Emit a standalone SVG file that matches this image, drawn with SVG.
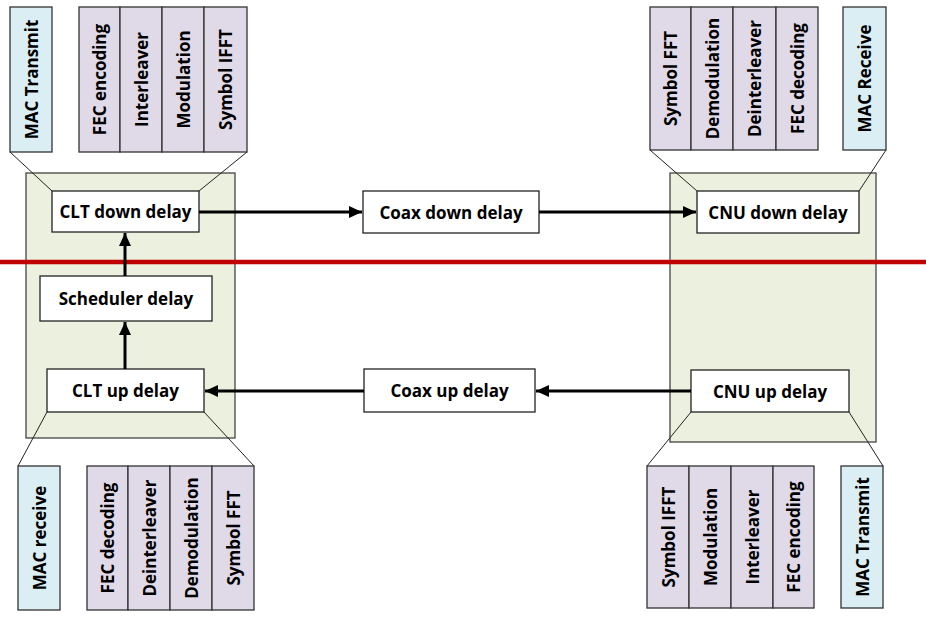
<svg xmlns="http://www.w3.org/2000/svg" width="926" height="625" viewBox="0 0 926 625">
<defs>
<marker id="ah" markerUnits="userSpaceOnUse" markerWidth="14" markerHeight="12" refX="13" refY="6" orient="auto">
<path d="M0,0 L13,6 L0,12 Z" fill="#000"/>
</marker>
<style>
.t{font-family:"Open Sans","Liberation Sans",sans-serif;font-weight:700;font-size:17px;fill:#000;text-anchor:middle;dominant-baseline:central}
.mac{fill:#DAEEF3;stroke:#333;stroke-width:1.3}
.pur{fill:#E0DAE8;stroke:#333;stroke-width:1.3}
.grn{fill:#EBF1DE;stroke:#444;stroke-width:1.3}
.box{fill:#fff;stroke:#222;stroke-width:1.3}
.thin{stroke:#222;stroke-width:1;fill:none}
.con{stroke:#000;stroke-width:3;fill:none;marker-end:url(#ah)}
</style>
</defs>
<rect width="926" height="625" fill="#fff"/>

<g id="clt">
<rect class="grn" x="26" y="173" width="209" height="265"/>
</g>
<g id="cnu">
<rect class="grn" x="670" y="173" width="206" height="269"/>
</g>

<g id="zoomlines">
<line class="thin" x1="10" y1="152" x2="52" y2="191"/>
<line class="thin" x1="247" y1="152" x2="199" y2="191"/>
<line class="thin" x1="47" y1="412" x2="18" y2="466"/>
<line class="thin" x1="204" y1="412" x2="254" y2="466"/>
<line class="thin" x1="650" y1="150" x2="697" y2="191"/>
<line class="thin" x1="886" y1="150" x2="859" y2="191"/>
<line class="thin" x1="691" y1="412" x2="647" y2="466"/>
<line class="thin" x1="849" y1="412" x2="883" y2="466"/>
</g>

<line id="boundary" x1="0" y1="262" x2="926" y2="262" stroke="#C00000" stroke-width="4.5"/>

<g id="mac-transmit-clt">
<rect class="mac" x="10" y="7" width="42" height="145"/>
<text class="t" transform="translate(31,79.5) rotate(-90)">MAC Transmit</text>
</g>
<g id="clt-tx-chain">
<rect class="pur" x="79" y="7" width="41" height="145"/>
<rect class="pur" x="120" y="7" width="42" height="145"/>
<rect class="pur" x="162" y="7" width="42" height="145"/>
<rect class="pur" x="204" y="7" width="43" height="145"/>
<text class="t" transform="translate(99.5,79.5) rotate(-90)">FEC encoding</text>
<text class="t" transform="translate(141,79.5) rotate(-90)">Interleaver</text>
<text class="t" transform="translate(183,79.5) rotate(-90)">Modulation</text>
<text class="t" transform="translate(225.5,79.5) rotate(-90)">Symbol IFFT</text>
</g>

<g id="cnu-rx-chain">
<rect class="pur" x="650" y="7" width="41" height="143"/>
<rect class="pur" x="691" y="7" width="42" height="143"/>
<rect class="pur" x="733" y="7" width="43" height="143"/>
<rect class="pur" x="776" y="7" width="42" height="143"/>
<text class="t" transform="translate(670.5,78.5) rotate(-90)">Symbol FFT</text>
<text class="t" transform="translate(712,78.5) rotate(-90)">Demodulation</text>
<text class="t" transform="translate(754.5,78.5) rotate(-90)">Deinterleaver</text>
<text class="t" transform="translate(797,78.5) rotate(-90)">FEC decoding</text>
</g>
<g id="mac-receive-cnu">
<rect class="mac" x="843" y="7" width="43" height="143"/>
<text class="t" transform="translate(864.5,78.5) rotate(-90)">MAC Receive</text>
</g>

<g id="mac-receive-clt">
<rect class="mac" x="18" y="466" width="42" height="144"/>
<text class="t" transform="translate(39,538) rotate(-90)">MAC receive</text>
</g>
<g id="clt-rx-chain">
<rect class="pur" x="87" y="466" width="41" height="144"/>
<rect class="pur" x="128" y="466" width="42" height="144"/>
<rect class="pur" x="170" y="466" width="42" height="144"/>
<rect class="pur" x="212" y="466" width="42" height="144"/>
<text class="t" transform="translate(107.5,538) rotate(-90)">FEC decoding</text>
<text class="t" transform="translate(149,538) rotate(-90)">Deinterleaver</text>
<text class="t" transform="translate(191,538) rotate(-90)">Demodulation</text>
<text class="t" transform="translate(233,538) rotate(-90)">Symbol FFT</text>
</g>

<g id="cnu-tx-chain">
<rect class="pur" x="647" y="466" width="42" height="142"/>
<rect class="pur" x="689" y="466" width="42" height="142"/>
<rect class="pur" x="731" y="466" width="42" height="142"/>
<rect class="pur" x="773" y="466" width="41" height="142"/>
<text class="t" transform="translate(668,537) rotate(-90)">Symbol IFFT</text>
<text class="t" transform="translate(710,537) rotate(-90)">Modulation</text>
<text class="t" transform="translate(752,537) rotate(-90)">Interleaver</text>
<text class="t" transform="translate(793.5,537) rotate(-90)">FEC encoding</text>
</g>
<g id="mac-transmit-cnu">
<rect class="mac" x="841" y="466" width="42" height="142"/>
<text class="t" transform="translate(862,537) rotate(-90)">MAC Transmit</text>
</g>

<g id="clt-down">
<rect class="box" x="52" y="191" width="147" height="41"/>
<text class="t" x="125.5" y="211.5">CLT down delay</text>
</g>
<g id="scheduler">
<rect class="box" x="40" y="276" width="172" height="45"/>
<text class="t" x="126" y="298.5">Scheduler delay</text>
</g>
<g id="clt-up">
<rect class="box" x="47" y="369" width="157" height="43"/>
<text class="t" x="125.5" y="390.5">CLT up delay</text>
</g>
<g id="coax-down">
<rect class="box" x="363" y="191" width="176" height="42"/>
<text class="t" x="451" y="212">Coax down delay</text>
</g>
<g id="coax-up">
<rect class="box" x="364" y="369" width="171" height="43"/>
<text class="t" x="449.5" y="390.5">Coax up delay</text>
</g>
<g id="cnu-down">
<rect class="box" x="697" y="191" width="162" height="42"/>
<text class="t" x="778" y="212">CNU down delay</text>
</g>
<g id="cnu-up">
<rect class="box" x="691" y="370" width="158" height="42"/>
<text class="t" x="770" y="391">CNU up delay</text>
</g>

<g id="connectors">
<line class="con" x1="199" y1="212" x2="362" y2="212"/>
<line class="con" x1="539" y1="212" x2="696" y2="212"/>
<line class="con" x1="691" y1="391" x2="536" y2="391"/>
<line class="con" x1="364" y1="391" x2="205" y2="391"/>
<line class="con" x1="125" y1="369" x2="125" y2="322"/>
<line class="con" x1="125" y1="276" x2="125" y2="233"/>
</g>
</svg>
